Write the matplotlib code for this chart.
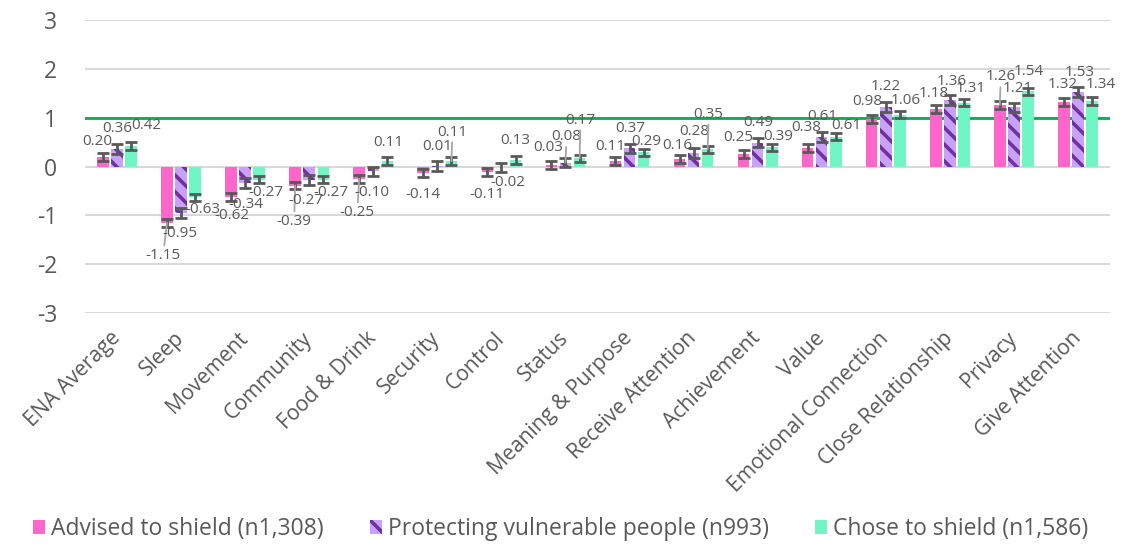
import matplotlib
matplotlib.use("Agg")
import matplotlib.pyplot as plt
from matplotlib.patches import Patch
import numpy as np

plt.rcParams["font.family"] = ["Open Sans", "DejaVu Sans"]
plt.rcParams["hatch.linewidth"] = 2.6

# ---- data -------------------------------------------------------------
categories = ["ENA Average", "Sleep", "Movement", "Community", "Food & Drink",
              "Security", "Control", "Status", "Meaning & Purpose",
              "Receive Attention", "Achievement", "Value",
              "Emotional Connection", "Close Relationship", "Privacy",
              "Give Attention"]

series_names = ["Advised to shield (n1,308)",
                "Protecting vulnerable people (n993)",
                "Chose to shield (n1,586)"]

advised = [0.20, -1.15, -0.62, -0.39, -0.25, -0.14, -0.11, 0.03, 0.11, 0.16,
           0.25, 0.38, 0.98, 1.18, 1.26, 1.32]
protecting = [0.36, -0.95, -0.34, -0.27, -0.10, 0.01, -0.02, 0.08, 0.37, 0.28,
              0.49, 0.61, 1.22, 1.36, 1.21, 1.53]
chose = [0.42, -0.63, -0.27, -0.27, 0.11, 0.11, 0.13, 0.17, 0.29, 0.35,
         0.39, 0.61, 1.06, 1.31, 1.54, 1.34]

# half-width of the error bars for each group
err_advised = 0.08
err_protecting = 0.10
err_chose = 0.075

reference_level = 1.0
y_ticks = [-3, -2, -1, 0, 1, 2, 3]

# ---- label placement (pixel offsets from the bar end, up is positive) --
off_advised = [(-6, 15), (-4, -33), (1, -19), (-1, -36), (-2, -34), (0, -21),
               (0, -23), (-3, 18), (-5, 15), (-2, 13), (-5, 17), (-1, 20),
               (-4, 17), (-2, 15), (1, 28), (-1, 18)]
off_protecting = [(0, 20), (-1, -21), (1, -21), (-3, -21), (-1, -21), (0, 20),
                  (6, -15), (1, 26), (1, 20), (1, 21), (1, 20), (1, 20),
                  (0, 20), (2, 19), (4, 19), (2, 19)]
off_chose = [(15, 20), (8, -12), (7, -13), (8, -13), (1, 19), (1, 29),
             (0, 20), (1, 38), (3, 11), (1, 35), (7, 11), (10, 11),
             (6, 14), (7, 14), (1, 20), (9, 17)]
# labels that are joined to their bar with a leader line
leaders_advised = {1, 3, 4, 14}
leaders_protecting = {7}
leaders_chose = {5, 7, 9}

# ---- styling ------------------------------------------------------------
PINK = "#FF66CC"
PURPLE_DARK = "#7030A0"
PURPLE_LIGHT = "#C7A2F7"
MINT = "#70F5C4"
TEXT = "#595959"
GRID = "#D9D9D9"
ERR = "#595959"

fig = plt.figure(figsize=(11.21, 5.44), dpi=100)
ax = fig.add_axes([85 / 1121, 1 - 313 / 544, (1110 - 85) / 1121, (313 - 20) / 544])

x = np.arange(len(categories))
step = 0.22
width = 0.18

groups = [
    (advised, err_advised, off_advised, leaders_advised,
     dict(color=PINK)),
    (protecting, err_protecting, off_protecting, leaders_protecting,
     dict(facecolor=PURPLE_LIGHT, edgecolor=PURPLE_DARK, hatch="\\\\", linewidth=0)),
    (chose, err_chose, off_chose, leaders_chose,
     dict(color=MINT)),
]

for i, (vals, err, offs, leaders, style) in enumerate(groups):
    xs = x + (i - 1) * step
    ax.bar(xs, vals, width=width, zorder=3, **style)
    ax.errorbar(xs, vals, yerr=err, fmt="none", ecolor=ERR, elinewidth=2,
                capsize=4.5, capthick=2, zorder=4)
    for j, (xx, v) in enumerate(zip(xs, vals)):
        kw = {}
        if j in leaders:
            kw["arrowprops"] = dict(arrowstyle="-", color="#A6A6A6", lw=1.3,
                                    shrinkA=0, shrinkB=0)
        ax.annotate(f"{v:.2f}", xy=(xx, v), xytext=offs[j],
                    textcoords="offset pixels", ha="center", va="center",
                    fontsize=11, color=TEXT, zorder=5, **kw)

ax.axhline(reference_level, color="#00B050", lw=2, zorder=2)

ax.set_ylim(-3, 3)
ax.set_xlim(-0.5, len(categories) - 0.5)
ax.set_yticks(y_ticks)
ax.set_yticklabels([str(t) for t in y_ticks], fontsize=16.5, color=TEXT)
ax.yaxis.grid(True, color=GRID, lw=1.5, zorder=0)
ax.set_axisbelow(True)
ax.tick_params(axis="y", length=0, pad=20)
ax.tick_params(axis="x", length=0, pad=16)
ax.set_xticks(x)
ax.set_xticklabels(categories, rotation=45, ha="right", va="center",
                   rotation_mode="anchor", fontsize=15.2, color=TEXT)
for s in ax.spines.values():
    s.set_visible(False)

handles = [
    Patch(facecolor=PINK, edgecolor="none"),
    Patch(facecolor=PURPLE_LIGHT, edgecolor=PURPLE_DARK, hatch="\\\\", linewidth=0),
    Patch(facecolor=MINT, edgecolor="none"),
]
leg = fig.legend(handles, series_names, loc="lower center",
                 bbox_to_anchor=(0.5, -0.02), ncol=3, frameon=False,
                 fontsize=16.5, handlelength=0.55, handleheight=0.55,
                 handletextpad=0.25, columnspacing=2.0, borderaxespad=0.2)
for t in leg.get_texts():
    t.set_color(TEXT)

fig.savefig("out.png", dpi=100)
